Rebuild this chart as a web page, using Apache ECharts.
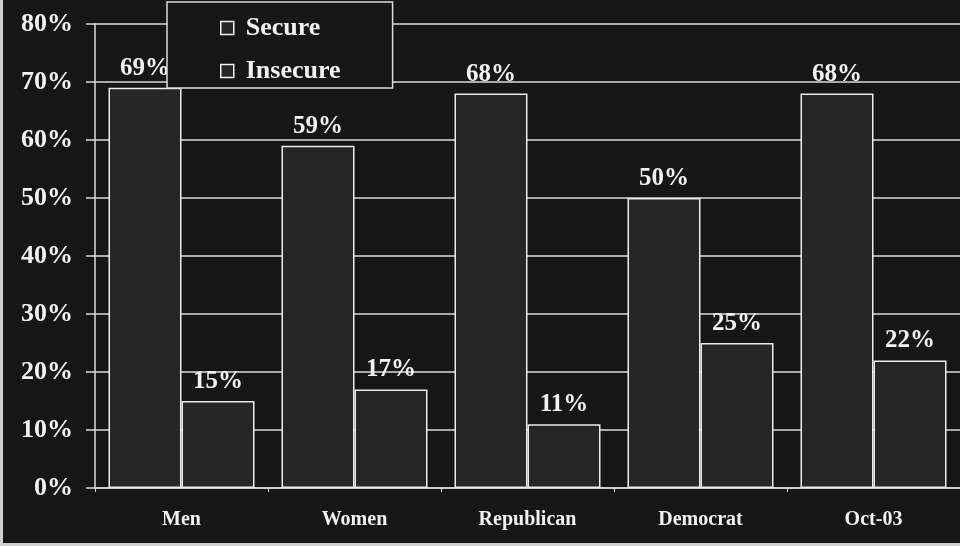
<!DOCTYPE html>
<html>
<head>
<meta charset="utf-8">
<script src="https://cdn.jsdelivr.net/npm/echarts@6/dist/echarts.min.js"></script>
<style>
  html, body { margin: 0; padding: 0; background: #cfcfcf; width: 960px; height: 546px; overflow: hidden; }
  #chart { position: absolute; left: 3px; top: 0; width: 957px; height: 543px; background: #161616; }
</style>
</head>
<body>
<div id="chart"></div>
<script>
// Survey groups and share of respondents (%)
const categories = ['Men', 'Women', 'Republican', 'Democrat', 'Oct-03'];
const secure = [69, 59, 68, 50, 68];
const insecure = [15, 17, 11, 25, 22];
const seriesNames = ['Secure', 'Insecure'];

const serif = '"Liberation Serif", "Times New Roman", serif';
const ink = '#f2f2f2';
const rule = '#dcdcdc';
const barFill = '#262626';

function barSeries(name, values) {
  return {
    name: name,
    type: 'bar',
    data: values,
    barWidth: 73,
    barGap: '0%',
    itemStyle: { color: barFill, borderColor: '#ececec', borderWidth: 1.5 },
    label: {
      show: true,
      position: 'top',
      distance: 7,
      formatter: '{c}%',
      color: ink,
      fontFamily: serif,
      fontWeight: 'bold',
      fontSize: 25
    }
  };
}

const chart = echarts.init(document.getElementById('chart'), null, { renderer: 'canvas' });
chart.setOption({
  backgroundColor: '#161616',
  animation: false,
  grid: { left: 92, right: -3, top: 24, bottom: 55, containLabel: false },
  legend: {
    data: seriesNames,
    orient: 'vertical',
    left: 164,
    top: 2,
    padding: [13, 52, 4, 53],
    itemGap: 17,
    itemWidth: 13,
    itemHeight: 13,
    icon: 'rect',
    backgroundColor: '#161616',
    borderColor: rule,
    borderWidth: 1.5,
    itemStyle: { color: barFill, borderColor: ink, borderWidth: 1.5 },
    textStyle: {
      color: ink,
      fontFamily: serif,
      fontWeight: 'bold',
      fontSize: 26,
      lineHeight: 26,
      padding: [0, 0, 0, 7]
    },
    z: 10
  },
  xAxis: {
    type: 'category',
    data: categories,
    axisLine: { show: true, lineStyle: { color: rule, width: 1.5 } },
    axisTick: { show: true, length: 4, lineStyle: { color: rule } },
    axisLabel: {
      color: ink,
      fontFamily: serif,
      fontWeight: 'bold',
      fontSize: 20,
      margin: 22
    }
  },
  yAxis: {
    type: 'value',
    min: 0,
    max: 80,
    interval: 10,
    axisLine: { show: true, lineStyle: { color: rule, width: 1.5 } },
    axisTick: { show: true, length: 9, lineStyle: { color: rule, width: 1.5 } },
    splitLine: { show: true, lineStyle: { color: rule, width: 1.5 } },
    axisLabel: {
      formatter: '{value}%',
      color: ink,
      fontFamily: serif,
      fontWeight: 'bold',
      fontSize: 26,
      margin: 22
    }
  },
  series: [barSeries(seriesNames[0], secure), barSeries(seriesNames[1], insecure)]
});
</script>
</body>
</html>
